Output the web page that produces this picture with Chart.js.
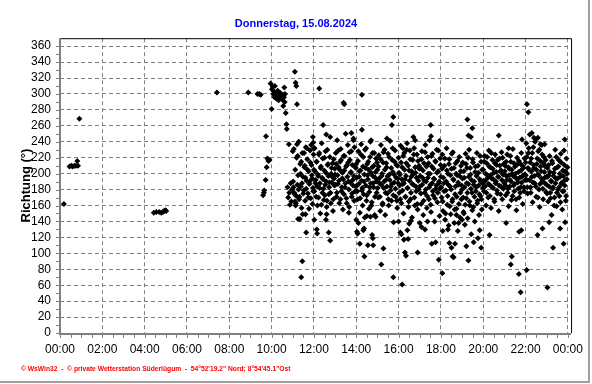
<!DOCTYPE html>
<html>
<head>
<meta charset="utf-8">
<script src="https://cdn.jsdelivr.net/npm/chart.js@4/dist/chart.umd.min.js"></script>
<style>
  html, body { margin: 0; padding: 0; background: #fff; }
  canvas { display: block; }
</style>
</head>
<body>
<canvas id="chart" width="592" height="384"></canvas>
<script>
const chartTitle = 'Donnerstag, 15.08.2024';
const axisTitle = 'Richtung (°)';
const footerText = '© WsWin32  -  © private Wetterstation Süderlügum  -  54°52\'19.2" Nord; 8°54\'45.1"Ost';

const hourTicks = [0, 2, 4, 6, 8, 10, 12, 14, 16, 18, 20, 22, 24];
const dirTicks = [0, 20, 40, 60, 80, 100, 120, 140, 160, 180, 200, 220, 240, 260, 280, 300, 320, 340, 360];

// single readings (night, morning and scattered outliers)
const sparseTimes = [
  '00:11', '00:27', '00:32', '00:36', '00:41', '00:45', '00:49', '00:51', '00:55',
  '04:26', '04:33', '04:41', '04:47', '04:52', '04:55', '04:59', '05:01',
  '07:25', '08:54', '09:20', '09:25', '09:29',
  '09:36', '09:38', '09:39', '09:43', '09:44', '09:46', '09:48', '09:51', '09:54', '09:57',
  '10:00', '10:01', '10:03', '10:05', '10:06', '10:08', '10:09', '10:11', '10:12', '10:14',
  '10:15', '10:17', '10:18', '10:20', '10:21', '10:23', '10:24', '10:26', '10:27', '10:29',
  '10:30', '10:32', '10:33', '10:35', '10:36', '10:37', '10:38', '10:40', '10:42', '10:43',
  '10:45', '10:47', '10:49', '10:50', '10:52', '10:54', '10:56', '10:58',
  '11:06', '11:08', '11:10', '11:12', '11:15', '11:24', '11:27', '11:36', '11:38', '11:57',
  '11:58', '12:00', '12:01', '12:08', '12:09', '12:15', '12:26', '12:34', '12:35', '12:36',
  '12:42', '12:46', '13:24', '13:26', '13:39', '13:46', '13:52', '14:00', '14:02', '14:04',
  '14:06', '14:10', '14:16', '14:16', '14:20', '14:22', '14:23', '14:30', '14:33', '14:40',
  '14:42', '14:45', '14:47', '14:48', '14:55', '15:11', '15:17', '15:27', '15:41', '15:45',
  '15:45', '16:00', '16:05', '16:08', '16:10', '16:12', '16:15', '16:18', '16:21', '16:25',
  '16:27', '16:30', '16:35', '16:42', '16:47', '16:54', '17:00', '17:05', '17:15', '17:22',
  '17:31', '17:32', '17:34', '17:45', '17:54', '17:56', '18:04', '18:05', '18:20', '18:24',
  '18:30', '18:33', '18:36', '18:40', '18:44', '18:50', '19:00', '19:05', '19:12', '19:15',
  '19:18', '19:18', '19:25', '19:29', '19:33', '19:45', '19:50', '19:54', '20:18', '20:44',
  '21:05', '21:12', '21:18', '21:21', '21:41', '21:42', '21:46', '21:48', '21:50', '22:03',
  '22:04', '22:08', '22:18', '22:24', '22:34', '22:35', '22:42', '22:48', '22:54', '23:02',
  '23:07', '23:18', '23:38', '23:48', '23:51', '23:52'
];
const sparseDirs = [
  162, 209, 210, 209, 210, 210, 216, 210, 269,
  151, 152, 152, 151, 152, 153, 154, 153,
  302, 302, 300, 300, 299,
  173, 176, 179, 192, 247, 208, 219, 216, 217, 313,
  281, 306, 309, 300, 303, 296, 310, 298, 301, 294,
  297, 304, 299, 292, 296, 302, 298, 300, 295, 297,
  293, 299, 285, 296, 308, 290, 300, 276, 262, 256,
  183, 170, 237, 176, 161, 188, 165, 180,
  328, 314, 310, 287, 143, 70, 90, 149, 126, 246,
  239, 232, 142, 130, 125, 307, 261, 142, 249, 149,
  126, 116, 289, 287, 151, 251, 242, 142, 127, 125,
  138, 112, 299, 255, 129, 131, 96, 147, 110, 146,
  242, 123, 119, 110, 146, 86, 106, 244, 261, 271,
  70, 140, 126, 124, 61, 232, 117, 101, 97, 129,
  118, 137, 141, 246, 242, 101, 138, 133, 130, 140,
  261, 247, 112, 114, 92, 241, 75, 128, 130, 113,
  107, 96, 95, 112, 148, 138, 142, 150, 109, 268,
  91, 248, 246, 257, 114, 119, 129, 107, 123, 248,
  138, 232, 86, 96, 74, 127, 51, 129, 243, 79,
  287, 277, 251, 245, 123, 245, 237, 131, 237, 57,
  139, 107, 131, 112, 243, 139
];

// readings at even minutes, one list per hour
const dir11 = [228, 183, 176, 165, 160, 172, 237, 222, 180, 168, 143, 200, 215, 188, 149, 175, 226, 210, 195, 181, 232, 205, 170, 156, 190, 214, 236, 198, 162, 178];
const dir12 = [205, 232, 188, 171, 215, 160, 197, 224, 182, 150, 209, 238, 176, 193, 167, 220, 186, 201, 158, 230, 212, 174, 189, 246, 163, 207, 196, 153, 218, 185];
const dir13 = [199, 226, 171, 242, 187, 208, 163, 215, 231, 178, 194, 155, 222, 204, 183, 250, 169, 211, 236, 190, 158, 217, 201, 228, 175, 192, 244, 166, 209, 184];
const dir14 = [212, 185, 168, 228, 196, 151, 204, 237, 179, 160, 221, 190, 145, 207, 232, 173, 198, 215, 156, 183, 240, 201, 164, 226, 188, 210, 148, 195, 219, 176];
const dir15 = [205, 170, 223, 188, 153, 236, 197, 161, 214, 182, 230, 148, 192, 208, 175, 225, 160, 199, 241, 184, 166, 217, 202, 139, 189, 229, 171, 211, 157, 194];
const dir16 = [220, 176, 199, 235, 163, 208, 187, 150, 226, 193, 171, 213, 238, 182, 158, 204, 229, 168, 196, 145, 217, 186, 232, 160, 201, 178, 224, 155, 191, 210];
const dir17 = [184, 207, 162, 228, 195, 148, 213, 176, 236, 190, 157, 221, 200, 168, 242, 186, 152, 209, 225, 173, 194, 140, 216, 181, 230, 164, 203, 188, 147, 219];
const dir18 = [196, 170, 224, 153, 188, 210, 142, 179, 232, 161, 200, 135, 218, 184, 149, 206, 165, 227, 192, 138, 174, 213, 156, 198, 128, 186, 221, 145, 203, 168];
const dir19 = [180, 214, 152, 195, 136, 225, 169, 207, 144, 187, 230, 160, 199, 124, 176, 218, 158, 190, 140, 209, 183, 226, 166, 201, 148, 193, 172, 215, 155, 188];
const dir20 = [205, 178, 222, 191, 160, 213, 198, 170, 229, 186, 208, 157, 194, 217, 182, 201, 165, 224, 190, 211, 175, 196, 153, 219, 203, 184, 227, 168, 199, 212];
const dir21 = [188, 210, 173, 197, 224, 181, 159, 206, 192, 215, 167, 200, 231, 185, 178, 209, 195, 154, 220, 189, 202, 170, 213, 183, 226, 196, 162, 207, 178, 199];
const dir22 = [214, 238, 192, 175, 226, 205, 249, 183, 219, 196, 164, 233, 207, 188, 243, 171, 212, 199, 228, 180, 158, 216, 203, 236, 190, 168, 221, 195, 209, 177];
const dir23 = [186, 207, 165, 198, 222, 176, 191, 148, 213, 183, 201, 170, 230, 194, 159, 208, 180, 217, 172, 196, 225, 187, 155, 204, 178, 211, 192, 166, 219, 200];

// readings at odd minutes
const odd11 = [190, 231, 174, 205, 163, 220, 186, 198, 240, 171, 212, 184, 157, 226, 196, 179, 208, 166, 233, 191, 218, 175, 203, 187, 229, 169, 211, 194, 182, 224];
const odd12 = [178, 203, 192, 215, 184, 199, 170, 226, 188, 207, 161, 195, 219, 181, 204, 173, 228, 190, 166, 211, 197, 183, 221, 176, 200, 189, 213, 168, 194, 206];
const odd13 = [186, 212, 176, 198, 229, 191, 205, 168, 217, 183, 201, 193, 174, 222, 188, 209, 163, 196, 214, 180, 227, 189, 202, 171, 211, 185, 197, 233, 178, 207];
const odd14 = [195, 178, 216, 187, 203, 169, 224, 191, 182, 209, 174, 199, 230, 185, 166, 212, 193, 205, 177, 221, 188, 160, 208, 197, 183, 226, 171, 202, 190, 214];
const odd15 = [182, 209, 194, 171, 218, 186, 200, 163, 227, 190, 205, 176, 213, 184, 197, 168, 221, 192, 179, 207, 187, 232, 173, 199, 215, 181, 195, 166, 210, 188];
const odd16 = [201, 185, 168, 214, 193, 179, 222, 188, 205, 171, 197, 230, 182, 210, 165, 191, 218, 176, 203, 187, 199, 224, 170, 208, 184, 195, 162, 216, 180, 206];
const odd17 = [197, 175, 218, 186, 204, 166, 191, 227, 180, 209, 172, 195, 213, 183, 200, 161, 222, 188, 178, 206, 193, 169, 215, 185, 201, 176, 229, 190, 181, 211];
const odd18 = [183, 206, 165, 195, 178, 219, 150, 190, 204, 172, 186, 212, 159, 198, 180, 225, 168, 193, 207, 155, 184, 200, 171, 216, 189, 162, 197, 176, 210, 185];
const odd19 = [194, 170, 203, 183, 161, 212, 188, 176, 220, 196, 165, 207, 181, 192, 154, 214, 186, 171, 202, 178, 197, 163, 210, 185, 174, 222, 190, 168, 205, 182];
const odd20 = [191, 215, 184, 200, 176, 221, 195, 187, 209, 172, 198, 226, 183, 206, 193, 168, 213, 188, 202, 179, 217, 196, 185, 210, 174, 204, 192, 220, 181, 199];
const odd21 = [203, 185, 215, 192, 176, 208, 198, 184, 222, 190, 205, 172, 197, 213, 187, 200, 168, 211, 193, 181, 216, 195, 176, 204, 189, 210, 198, 183, 219, 192];
const odd22 = [198, 221, 183, 207, 232, 192, 214, 176, 203, 226, 189, 211, 197, 240, 184, 205, 219, 170, 198, 230, 187, 209, 194, 224, 181, 213, 202, 188, 217, 196];
const odd23 = [175, 196, 211, 184, 202, 169, 190, 216, 181, 197, 160, 206, 188, 221, 176, 194, 209, 183, 200, 164, 214, 189, 178, 197, 229, 185, 203, 172, 193, 208];

const coreHours = [11, 12, 13, 14, 15, 16, 17, 18, 19, 20, 21, 22, 23];
const evenDirs = [dir11, dir12, dir13, dir14, dir15, dir16, dir17, dir18, dir19, dir20, dir21, dir22, dir23];
const oddDirs = [odd11, odd12, odd13, odd14, odd15, odd16, odd17, odd18, odd19, odd20, odd21, odd22, odd23];

function toHours(t) {
  const parts = t.split(':');
  return Number(parts[0]) + Number(parts[1]) / 60;
}

const points = sparseTimes.map((t, i) => ({ x: toHours(t), y: sparseDirs[i] }));
coreHours.forEach((hour, k) => {
  evenDirs[k].forEach((v, i) => points.push({ x: hour + (2 * i) / 60, y: v }));
  oddDirs[k].forEach((v, i) => points.push({ x: hour + (2 * i + 1) / 60, y: v }));
});

const labelFont = { family: '"Liberation Sans Narrow", "Liberation Sans", Arial', size: 12 };

// axes, tick marks, frame and footer like the WsWin chart
const framePlugin = {
  id: 'frame',
  afterDraw(chart) {
    const { ctx, chartArea: a, scales } = chart;
    ctx.save();
    ctx.strokeStyle = '#000';
    ctx.lineWidth = 1;
    ctx.beginPath();
    ctx.moveTo(a.left, a.top + 0.5);
    ctx.lineTo(a.right + 0.5, a.top + 0.5);
    ctx.lineTo(a.right + 0.5, a.bottom);
    ctx.stroke();

    ctx.fillStyle = '#808080';
    ctx.fillRect(a.left - 1, a.top, 2, a.bottom - a.top + 2);
    ctx.fillRect(a.left - 1, a.bottom, a.right - a.left + 1, 2);
    for (let v = 0; v <= 360; v += 10) {
      const py = Math.round(scales.y.getPixelForValue(v));
      ctx.fillRect(a.left - 4, py, 3, 1);
    }
    for (let h = 0; h <= 24; h += 0.5) {
      const px = Math.round(scales.x.getPixelForValue(h));
      ctx.fillRect(px, a.bottom + 2, 1, 3);
    }

    ctx.fillStyle = '#ff0000';
    ctx.font = 'bold 6.7px "Liberation Sans", Arial';
    ctx.textBaseline = 'middle';
    ctx.fillText(footerText, 21, 369);

    ctx.fillStyle = '#a0a0a0';
    ctx.fillRect(588, 0, 2, 383);
    ctx.fillRect(0, 381, 590, 2);
    ctx.restore();
  }
};

new Chart(document.getElementById('chart'), {
  type: 'scatter',
  data: {
    datasets: [{
      label: 'Richtung',
      data: points,
      pointStyle: 'rectRot',
      pointRadius: 3,
      pointBorderWidth: 0,
      backgroundColor: '#000',
      borderColor: '#000'
    }]
  },
  options: {
    responsive: false,
    animation: false,
    layout: { padding: 0 },
    plugins: {
      legend: { display: false },
      tooltip: { enabled: false },
      title: {
        display: true,
        text: chartTitle,
        color: '#0000ff',
        font: { family: '"Liberation Sans", Arial', size: 11, weight: 'bold' },
        padding: { top: 17, bottom: 8 }
      }
    },
    scales: {
      x: {
        type: 'linear',
        min: 0,
        max: 24.15,
        afterBuildTicks: s => { s.ticks = hourTicks.map(v => ({ value: v })); },
        afterFit: s => { s.height = 51; },
        grid: { color: '#808080', drawTicks: false },
        border: { display: false, dash: [4, 3] },
        ticks: {
          padding: 9,
          color: '#000',
          font: labelFont,
          maxRotation: 0,
          autoSkip: false,
          callback: v => String(v % 24).padStart(2, '0') + ':00'
        }
      },
      y: {
        min: 0,
        max: 370,
        afterBuildTicks: s => { s.ticks = dirTicks.map(v => ({ value: v })); },
        afterFit: s => { s.width = 60; },
        grid: { color: '#808080', drawTicks: false },
        border: { display: false, dash: [4, 3] },
        ticks: { padding: 9, color: '#000', font: labelFont, autoSkip: false },
        title: {
          display: true,
          text: axisTitle,
          color: '#000',
          font: { family: '"Liberation Sans", Arial', size: 13, weight: 'bold' },
          padding: { top: 19, bottom: 0 }
        }
      },
      // empty right margin so the title is centred on the whole picture
      yRight: {
        position: 'right',
        min: 0,
        max: 370,
        afterFit: s => { s.width = 18; },
        grid: { display: false },
        border: { display: false },
        ticks: { display: false }
      }
    }
  },
  plugins: [framePlugin]
});
</script>
</body>
</html>
